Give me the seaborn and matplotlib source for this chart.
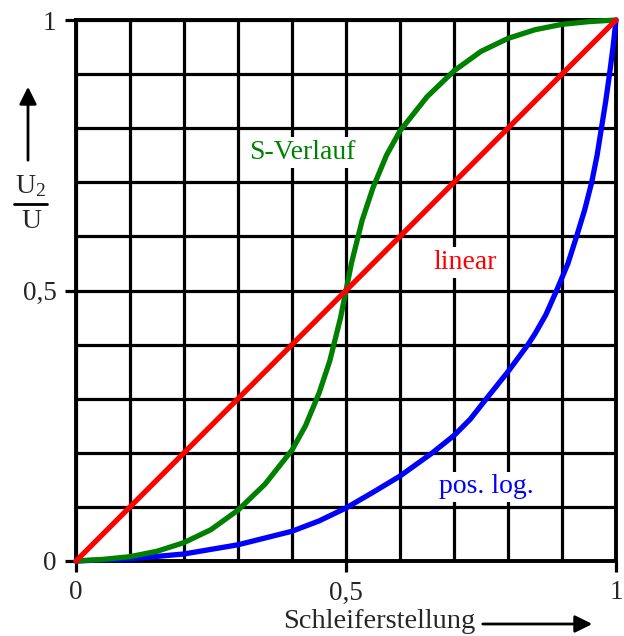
import matplotlib
matplotlib.use("Agg")
import matplotlib.pyplot as plt
import seaborn as sns
import pandas as pd
from matplotlib.lines import Line2D

# ---- data ----
lin_x = [0.0, 1.0]
lin_y = [0.0, 1.0]

s_x = [0.0, 0.05, 0.1, 0.15, 0.2, 0.25, 0.3, 0.35, 0.4, 0.425, 0.45, 0.47, 0.49, 0.5,
       0.51, 0.53, 0.55, 0.575, 0.6, 0.65, 0.7, 0.75, 0.8, 0.85, 0.9, 0.95, 1.0]
s_y = [0.0, 0.003, 0.008, 0.018, 0.034, 0.058, 0.094, 0.142, 0.205, 0.25, 0.31, 0.37, 0.45, 0.5,
       0.55, 0.63, 0.69, 0.75, 0.795, 0.858, 0.906, 0.942, 0.966, 0.982, 0.992, 0.997, 1.0]

log_x = [0.0, 0.1, 0.2, 0.3, 0.4, 0.45, 0.5, 0.55, 0.6, 0.66, 0.7, 0.73, 0.76, 0.8,
         0.837, 0.85, 0.87, 0.89, 0.911, 0.927, 0.942, 0.955, 0.965, 0.973, 0.981,
         0.988, 0.9945, 1.0]
log_y = [0.0, 0.004, 0.013, 0.03, 0.055, 0.074, 0.098, 0.127, 0.157, 0.2, 0.232, 0.262,
         0.3, 0.35, 0.4, 0.42, 0.455, 0.5, 0.55, 0.6, 0.649, 0.7, 0.75, 0.8, 0.85,
         0.9, 0.95, 1.0]

tick_vals = [0.0, 0.5, 1.0]
tick_labels = ["0", "0,5", "1"]

labels = {"S-Verlauf": (0.42, 0.755), "linear": (0.72, 0.552), "pos. log.": (0.76, 0.137)}
colors = {"S-Verlauf": "#008000", "linear": "#ff0000", "pos. log.": "#0000ff"}

sns.set_theme(style="white")
plt.rcParams["font.family"] = ["Liberation Serif", "DejaVu Serif"]
plt.rcParams["mathtext.fontset"] = "custom"
plt.rcParams["mathtext.rm"] = "Liberation Serif"
plt.rcParams["mathtext.it"] = "Liberation Serif"

W, H = 624, 636
fig = plt.figure(figsize=(W / 100, H / 100), dpi=100)
ax = fig.add_axes([76 / W, 1 - 561 / H, 540 / W, 541 / H])

ax.set_xlim(0, 1)
ax.set_ylim(0, 1)

# grid
ax.set_xticks(tick_vals)
ax.set_yticks(tick_vals)
ax.set_xticks([i / 10 for i in range(11)], minor=True)
ax.set_yticks([i / 10 for i in range(11)], minor=True)
ax.grid(True, which="both", color="black", linewidth=2.3, zorder=1)
ax.set_axisbelow(True)
ax.set_xticklabels(tick_labels, fontsize=19.5)
ax.set_yticklabels(tick_labels, fontsize=19.5)
ax.tick_params(which="major", direction="out", length=8, width=2.3, color="black",
               left=True, bottom=True, pad=6)
ax.tick_params(which="minor", length=0)
for sp in ax.spines.values():
    sp.set_color("black")
    sp.set_linewidth(2.8)

df_lin = pd.DataFrame({"x": lin_x, "y": lin_y})
df_s = pd.DataFrame({"x": s_x, "y": s_y})
df_log = pd.DataFrame({"x": log_x, "y": log_y})

for df, name in [(df_log, "pos. log."), (df_s, "S-Verlauf"), (df_lin, "linear")]:
    sns.lineplot(data=df, x="x", y="y", ax=ax, color=colors[name], linewidth=3.8,
                 sort=False, estimator=None, zorder=4, clip_on=False)
for ln in ax.lines:
    ln.set_solid_joinstyle("round")

ax.set_xlabel("")
ax.set_ylabel("")

for name, (tx, ty) in labels.items():
    ax.text(tx, ty, name, color=colors[name], fontsize=20, ha="center", va="center",
            zorder=3, bbox=dict(facecolor="white", edgecolor="none", pad=2))

# x axis label with arrow
fig.text(379 / W, 1 - 622 / H, "Schleiferstellung", fontsize=20.5, ha="center", va="center")
fig.add_artist(matplotlib.patches.FancyArrowPatch(
    (480 / W, 1 - 624 / H), (595 / W, 1 - 624 / H), transform=fig.transFigure,
    arrowstyle="-|>", mutation_scale=26, lw=2, color="black"))

# y axis label: U2 / U with arrow
fig.add_artist(matplotlib.patches.FancyArrowPatch(
    (28 / W, 1 - 163 / H), (28 / W, 1 - 84 / H), transform=fig.transFigure,
    arrowstyle="-|>", mutation_scale=26, lw=2, color="black"))
fig.text(31 / W, 1 - 186 / H, r"$\mathrm{U_2}$", fontsize=20, ha="center", va="center")
fig.add_artist(Line2D([14 / W, 47 / W], [1 - 204 / H, 1 - 204 / H],
                      transform=fig.transFigure, color="black", lw=2))
fig.text(31 / W, 1 - 222 / H, "U", fontsize=20, ha="center", va="center")

fig.savefig("out.png", dpi=100)
